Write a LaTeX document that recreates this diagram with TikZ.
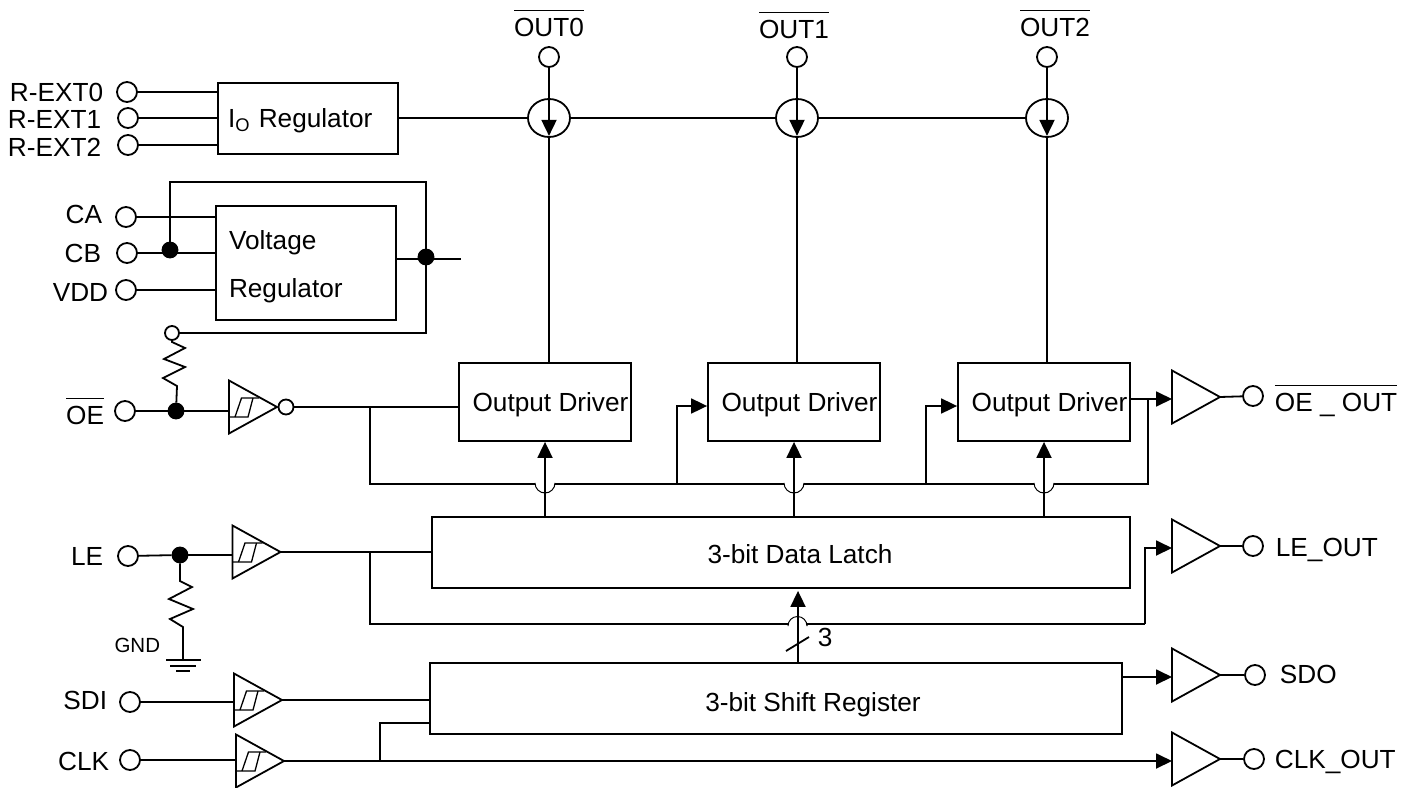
\documentclass[tikz,border=0pt]{standalone}
\usepackage{fontspec}
\setmainfont{Liberation Sans}
\usetikzlibrary{arrows.meta,shapes.geometric}
\newcommand{\ovl}[1]{\leavevmode\vbox{\hrule height 1.2pt \kern 7pt\hbox{#1}}}
\begin{document}
\begin{tikzpicture}[
x=1pt,y=-1pt,line width=1.8pt,
>={Triangle[length=16pt,width=15pt]},
every node/.style={font=\fontsize{26.2}{30}\selectfont,inner sep=0pt},
term/.style={draw,circle,minimum size=20pt},
tap/.style={draw,circle,minimum size=14pt},
dot/.style={draw,circle,fill=black,minimum size=15pt},
csrc/.style={draw,ellipse,minimum width=42pt,minimum height=38pt},
block/.style={draw,rectangle,minimum width=#1,minimum height=71pt,text depth=0pt},
driver/.style={draw,rectangle,minimum width=172pt,minimum height=78pt,text height=18pt,text depth=0pt},
hop/.style={line width=1pt},
buffer/.pic={
  \draw (0,-26.5) -- (48,0) -- (0,26.5) -- cycle;
  \coordinate (-in) at (0,0);
  \coordinate (-out) at (48,0);},
schmitt/.pic={
  \draw (0,-26.5) -- (48,0) -- (0,26.5) -- cycle;
  \draw[line width=1.3pt] (0,10) -- (19,10) -- (24,-9);
  \draw[line width=1.3pt] (6,10) -- (12.5,-9) -- (30,-9);
  \coordinate (-in) at (0,0);
  \coordinate (-out) at (48,0);}
]
\useasboundingbox (0,0) rectangle (1413,787);

% input pins
\node[term] (rext0) at (127,92) {};
\node[term] (rext1) at (128,118) {};
\node[term] (rext2) at (128,145) {};
\node[term] (ca) at (126,217) {};
\node[term] (cb) at (127,253) {};
\node[term] (vdd) at (126,290) {};
\node[term] (oe) at (125,411) {};
\node[term] (le) at (128,556) {};
\node[term] (sdi) at (130,702) {};
\node[term] (clk) at (130,760) {};
\node[anchor=base east] (lrext0) at (104,101) {R-EXT0};
\node[anchor=base east] (lrext1) at (102,128) {R-EXT1};
\node[anchor=base east] (lrext2) at (102,156) {R-EXT2};
\node[anchor=base east] (lca) at (103,223) {CA};
\node[anchor=base east] (lcb) at (102,262) {CB};
\node[anchor=base east] (lvdd) at (109,301) {VDD};
\node[anchor=base east] (loe) at (105,424) {\ovl{OE}};
\node[anchor=base east] (lle) at (104,565) {LE};
\node[anchor=base east] (lsdi) at (108,709) {SDI};
\node[anchor=base east] (lclk) at (110,770) {CLK};

% regulators
\node[block=180pt,align=left,text width=160pt,inner xsep=10pt,text height=17pt] (ioreg) at (308,118.5) {I\textsubscript{O} Regulator};
\node[draw,minimum width=180pt,minimum height=114pt,align=left,text width=154pt,inner xsep=13pt] (vreg) at (306,263) {\rule{0pt}{27pt}Voltage\\[18pt]Regulator};
\draw (rext0) -- (rext0 -| ioreg.west);
\draw (rext1) -- (rext1 -| ioreg.west);
\draw (rext2) -- (rext2 -| ioreg.west);
\draw (ca) -- (ca -| vreg.west);
\draw (cb) -- (cb -| vreg.west);
\draw (vdd) -- (vdd -| vreg.west);
\node[dot] (dcb) at (170,250) {};
\node[dot] (dvr) at (426,257) {};
\node[tap] (pull) at (172,333) {};
\coordinate (vout) at (461,259);
\draw (vreg.east |- vout) -- (vout);
\draw (dcb) -- ++(0,-68) -| (dvr);
\draw (dvr) |- (pull);

% output stages
\foreach \Val/\Pos in {0/549,1/797,2/1047}{
  \node[csrc] (csrc\Val) at (\Pos,118) {};
  \node[term] (out\Val) at (\Pos,57) {};
  \draw[->,shorten >=2pt] (out\Val) -- (csrc\Val.south);
}
\node[anchor=base] (lout0) at (549,36) {\ovl{OUT0}};
\node[anchor=base] (lout1) at (794,38) {\ovl{OUT1}};
\node[anchor=base] (lout2) at (1055,36) {\ovl{OUT2}};
\draw (ioreg.east |- csrc0) -- (csrc0);
\draw (csrc0) -- (csrc1);
\draw (csrc1) -- (csrc2);

\node[driver] (drv0) at (545,402) {\hspace{11pt}Output Driver};
\node[driver] (drv1) at (794,402) {\hspace{11pt}Output Driver};
\node[driver] (drv2) at (1044,402) {\hspace{11pt}Output Driver};
\draw (csrc0.south) -- (csrc0.south |- drv0.north);
\draw (csrc1.south) -- (csrc1.south |- drv1.north);
\draw (csrc2.south) -- (csrc2.south |- drv2.north);

% OE path
\node[dot] (doe) at (176,411) {};
\draw (oe) -- (doe);
\draw (pull) -- ++(0,9) -- ++(13,6) -- ++(-21,11) -- ++(21,8) -- ++(-22,11) -- ++(14,8) -- (doe);
\pic (bufoe) at (229,407) {schmitt};
\draw (doe) -- (bufoe-in |- doe);
\node[draw,circle,minimum size=15pt] (inv) at (286,407) {};
\coordinate (foe) at (370,407);
\coordinate (bus) at (370,484);
\coordinate (brn1) at (677,484);
\coordinate (brn2) at (926,484);
\coordinate (fbr) at (1148,399);
\draw (inv) -- (inv -| drv0.west);
\draw (foe) -- (bus) -- (535,484);
\draw[hop] (535,484) -- ++(0,-1) arc[start angle=180,end angle=0,radius=10] -- ++(0,1);
\draw (555,484) -- (784,484);
\draw[hop] (784,484) -- ++(0,-1) arc[start angle=180,end angle=0,radius=10] -- ++(0,1);
\draw (804,484) -- (1034,484);
\draw[hop] (1034,484) -- ++(0,-1) arc[start angle=180,end angle=0,radius=10] -- ++(0,1);
\draw (1054,484) -| (fbr);
\draw[->] (brn1) |- ([yshift=-4pt]drv1.west);
\draw[->] (brn2) |- ([yshift=-4pt]drv2.west);

\pic (bufoo) at (1172,397) {buffer};
\node[term] (oeout) at (1253,396) {};
\node[anchor=base west] (loeout) at (1274,411) {\ovl{OE \_ OUT}};
\draw[->] ([yshift=3pt]drv2.east) -- ([yshift=-2pt]bufoo-in);
\draw (bufoo-out) -- (oeout);

% data latch
\node[block=698pt,text height=21pt] (latch) at (781,552.5) {\hspace{38pt}3-bit Data Latch};
\draw[->] (drv0.south |- latch.north) -- (drv0.south);
\draw[->] (drv1.south |- latch.north) -- (drv1.south);
\draw[->] (drv2.south |- latch.north) -- (drv2.south);

% LE path
\node[dot] (dle) at (180,555) {};
\draw (le) -- (dle);
\coordinate (gnd) at (183,660);
\draw (dle) -- ++(0,26) -- ++(12,6) -- ++(-23,12) -- ++(24,10) -- ++(-23,10) -- ++(13,8) -- (gnd);
\draw (166,660) -- (201,660);
\draw[line width=1.3pt] (170,666) -- (196,666);
\draw[line width=1.3pt] (176,671) -- (190,671);
\node[font=\fontsize{20.5}{22}\selectfont,anchor=base east] (lgnd) at (161,652) {GND};
\pic (bufle) at (232.5,552) {schmitt};
\draw (dle) -- (bufle-in |- dle);
\draw (bufle-out) -- (bufle-out -| latch.west);
\coordinate (fle) at (370,552);
\coordinate (bend) at (1145,624);
\draw (fle) |- (788,624);
\draw[hop] (788,624) -- ++(0,2) arc[start angle=180,end angle=360,radius=9.5] -- ++(0,-2);
\draw (807,624) -- (bend);
\pic (buflo) at (1172,546) {buffer};
\node[term] (leout) at (1253,546) {};
\node[anchor=base west] (lleout) at (1275,556) {LE\_OUT};
\draw[->] (bend) |- ([yshift=-2pt]buflo-in);
\draw (buflo-out) -- (leout);

% shift register
\node[block=692pt,text height=25pt] (shift) at (776,698.5) {\hspace{74pt}3-bit Shift Register};
\coordinate (bsout) at (798,663);
\draw[->,shorten >=2pt] (bsout) -- (bsout |- latch.south);
\draw (786,651) -- (809,637);
\node[anchor=base west] (lbus) at (817,646) {3};

% SDI and CLK path
\pic (bufsd) at (234,700) {schmitt};
\draw (sdi) -- (bufsd-in |- sdi);
\draw (bufsd-out) -- (bufsd-out -| shift.west);
\pic (bufck) at (236,761) {schmitt};
\draw (clk) -- (bufck-in |- clk);
\pic (bufso) at (1172,675) {buffer};
\node[term] (sdo) at (1255,675) {};
\node[anchor=base west] (lsdo) at (1279,683) {SDO};
\coordinate (sout) at (1122,677);
\draw[->] (sout) -- (bufso-in |- sout);
\draw (bufso-out) -- (sdo);
\pic (bufco) at (1172,759) {buffer};
\node[term] (clkout) at (1254,759) {};
\node[anchor=base west] (lclkout) at (1274,768) {CLK\_OUT};
\draw[->] (bufck-out) -- (bufco-in |- bufck-out);
\draw (bufco-out) -- (clkout);
\coordinate (ckup) at (380,761);
\draw (ckup) |- (shift.west |- 0,723);

\end{tikzpicture}
\end{document}
